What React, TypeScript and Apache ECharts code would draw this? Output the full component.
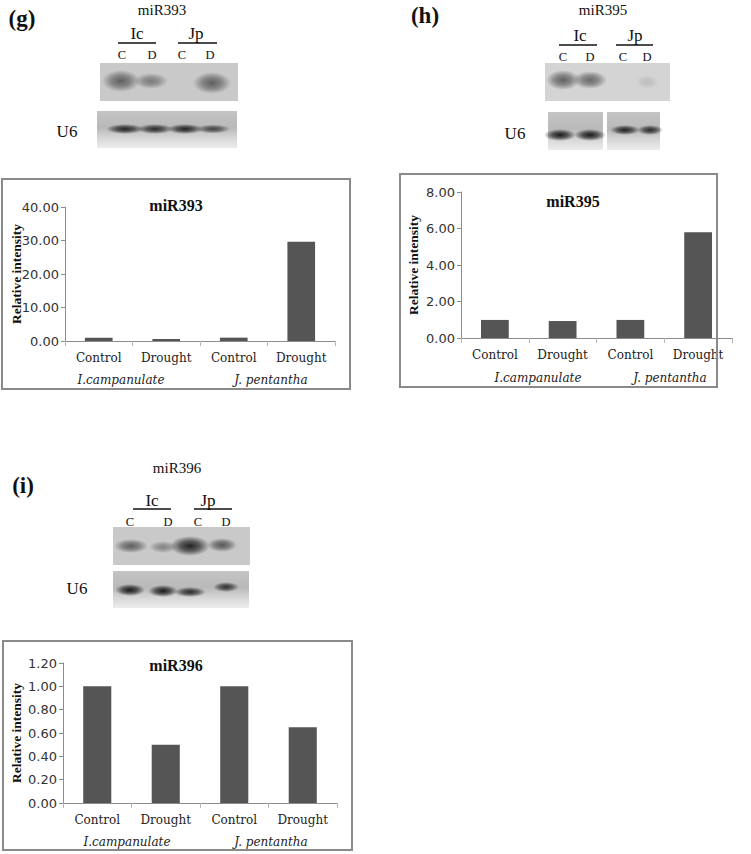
import React, { useEffect, useRef } from 'react';
import * as echarts from 'echarts';

// ---- data ----
const categories = ['Control', 'Drought', 'Control', 'Drought'];
const groupLabels = ['I.campanulate', 'J. pentantha'];
const panelTitles = ['miR393', 'miR395', 'miR396'];
const panelLetters = ['(g)', '(h)', '(i)'];
const miR393Values = [1.0, 0.6, 1.0, 29.6];
const miR395Values = [0.99, 0.93, 0.99, 5.8];
const miR396Values = [1.0, 0.5, 1.0, 0.65];
const yMaxes = [40, 8, 1.2];
const yIntervals = [10, 2, 0.2];
const laneLabels = ['C', 'D', 'C', 'D'];
const speciesLabels = ['Ic', 'Jp'];
const yAxisName = 'Relative intensity';
const blotLoadingLabel = 'U6';

const seriesValues = [miR393Values, miR395Values, miR396Values];

// ---- layout (positions / sizes only) ----
const panels = [
  {
    grid: { left: 65, top: 207, width: 270, height: 134 },
    frame: [2, 179, 348, 210],
    title: [176, 205],
    yName: [16, 274],
    groupY: 380,
    groupX: [121, 271],
    letter: [22, 18],
    blotTitle: [162, 10],
    species: [[137, 33], [196, 33]],
    underline: [[118, 156, 43], [178, 217, 43]],
    lanes: [122, 152, 182, 210],
    laneY: 55,
    blot1: [100, 63, 138, 38],
    bands1: [[121, 81, 19, 11, 0.6], [151, 81, 17, 8, 0.45], [212, 83, 19, 11, 0.6]],
    u6: [67, 131],
    blot2: [[97, 111, 140, 37]],
    bands2: [[125, 129, 19, 5, 0.95], [155, 129, 18, 5, 0.9], [185, 129, 18, 5, 0.95], [213, 129, 17, 4.5, 0.75]],
  },
  {
    grid: { left: 461, top: 192, width: 271, height: 146 },
    frame: [400, 174, 317, 213],
    title: [573, 201],
    yName: [413, 265],
    groupY: 378,
    groupX: [538, 670],
    letter: [425, 15],
    blotTitle: [603, 10],
    species: [[580, 35], [635, 35]],
    underline: [[559, 597, 45], [616, 653, 45]],
    lanes: [563, 590, 623, 647],
    laneY: 57,
    blot1: [545, 63, 125, 38],
    bands1: [[563, 80, 17, 10, 0.62], [590, 80, 17, 9, 0.58], [647, 82, 11, 7, 0.12]],
    u6: [515, 133],
    blot2: [[548, 112, 55, 38], [607, 112, 53, 38]],
    bands2: [[560, 135, 16, 6, 1.0], [590, 135, 16, 6, 1.0], [625, 130, 15, 5, 0.95], [650, 130, 13, 5, 0.9]],
  },
  {
    grid: { left: 63, top: 663, width: 274, height: 140 },
    frame: [3, 641, 349, 209],
    title: [176, 665],
    yName: [16, 733],
    groupY: 842,
    groupX: [127, 271],
    letter: [23, 485],
    blotTitle: [177, 468],
    species: [[152, 500], [208, 500]],
    underline: [[133, 171, 509], [194, 232, 509]],
    lanes: [130, 168, 198, 226],
    laneY: 522,
    blot1: [113, 527, 137, 38],
    bands1: [[131, 546, 17, 7, 0.6], [163, 547, 14, 6, 0.4], [190, 546, 20, 10, 0.95], [222, 545, 15, 7, 0.65]],
    u6: [77, 588],
    blot2: [[113, 571, 136, 37]],
    bands2: [[130, 590, 15, 6, 1.0], [163, 591, 15, 6, 1.0], [190, 592, 16, 5, 0.9], [226, 587, 13, 5, 0.85]],
  },
];

const SERIF = '"Liberation Serif", "Times New Roman", serif';
const SLAB = '"DejaVu Serif", serif';
const SANS = '"DejaVu Sans", Verdana, sans-serif';

function band(cx: number, cy: number, rx: number, ry: number, a: number) {
  return {
    type: 'ellipse',
    shape: { cx, cy, rx, ry },
    style: {
      fill: new echarts.graphic.RadialGradient(0.5, 0.5, 0.5, [
        { offset: 0, color: `rgba(25,25,25,${a})` },
        { offset: 0.5, color: `rgba(25,25,25,${a * 0.65})` },
        { offset: 1, color: 'rgba(25,25,25,0)' },
      ]),
    },
    z: 3,
  };
}

function txt(x: number, y: number, text: string, font: any) {
  return {
    type: 'text',
    x,
    y,
    style: { text, align: 'center', verticalAlign: 'middle', fill: '#111', ...font },
    z: 5,
  };
}

function buildGraphics() {
  const els: any[] = [];
  panels.forEach((p, i) => {
    els.push({
      type: 'rect',
      shape: { x: p.frame[0], y: p.frame[1], width: p.frame[2], height: p.frame[3] },
      style: { fill: 'none', stroke: '#8a8a8a', lineWidth: 2 },
      z: 1,
    });
    els.push(txt(p.title[0], p.title[1], panelTitles[i], { fontFamily: SERIF, fontWeight: 'bold', fontSize: 16 }));
    els.push({
      type: 'text',
      x: p.yName[0],
      y: p.yName[1],
      rotation: Math.PI / 2,
      style: { text: yAxisName, align: 'center', verticalAlign: 'middle', fill: '#111', fontFamily: SERIF, fontWeight: 'bold', fontSize: 13.5 },
      z: 5,
    });
    groupLabels.forEach((g, k) => {
      els.push(txt(p.groupX[k], p.groupY, g, { fontFamily: SLAB, fontStyle: 'italic', fontSize: 12, fill: '#222' }));
    });

    els.push(txt(p.letter[0], p.letter[1], panelLetters[i], { fontFamily: SERIF, fontWeight: 'bold', fontSize: 23 }));
    els.push(txt(p.blotTitle[0], p.blotTitle[1], panelTitles[i], { fontFamily: SERIF, fontSize: 15 }));
    speciesLabels.forEach((s, k) => {
      els.push(txt(p.species[k][0], p.species[k][1], s, { fontFamily: SERIF, fontSize: 17 }));
      const u = p.underline[k];
      els.push({ type: 'line', shape: { x1: u[0], y1: u[2], x2: u[1], y2: u[2] }, style: { stroke: '#111', lineWidth: 1.3 }, z: 5 });
    });
    laneLabels.forEach((l, k) => {
      els.push(txt(p.lanes[k], p.laneY, l, { fontFamily: SERIF, fontSize: 12.5 }));
    });

    const b1 = p.blot1;
    els.push({
      type: 'rect',
      shape: { x: b1[0], y: b1[1], width: b1[2], height: b1[3] },
      style: { fill: i === 1 ? '#d4d4d4' : '#c9c9c9' },
      z: 2,
    });
    p.bands1.forEach((b) => els.push(band(b[0], b[1], b[2], b[3], b[4])));

    els.push(txt(p.u6[0], p.u6[1], blotLoadingLabel, { fontFamily: SERIF, fontSize: 17 }));
    p.blot2.forEach((b2) => {
      els.push({
        type: 'rect',
        shape: { x: b2[0], y: b2[1], width: b2[2], height: b2[3] },
        style: {
          fill: new echarts.graphic.LinearGradient(0, 0, 0, 1, [
            { offset: 0, color: '#c4c4c4' },
            { offset: 0.45, color: '#b9b9b9' },
            { offset: 0.75, color: '#d9d9d9' },
            { offset: 1, color: '#ececec' },
          ]),
        },
        z: 2,
      });
    });
    p.bands2.forEach((b) => els.push(band(b[0], b[1], b[2], b[3], b[4])));
  });
  return els;
}

function buildOption() {
  return {
    animation: false,
    backgroundColor: '#ffffff',
    grid: panels.map((p) => ({ ...p.grid, containLabel: false })),
    xAxis: panels.map((p, i) => ({
      type: 'category',
      gridIndex: i,
      data: categories,
      axisLine: { show: true, lineStyle: { color: '#8c8c8c', width: 1 } },
      axisTick: { show: true, length: 5, lineStyle: { color: '#b5b5b5' } },
      axisLabel: { color: '#222', fontFamily: SLAB, fontSize: 12, margin: 11 },
      splitLine: { show: false },
    })),
    yAxis: panels.map((p, i) => ({
      type: 'value',
      gridIndex: i,
      min: 0,
      max: yMaxes[i],
      interval: yIntervals[i],
      axisLine: { show: true, lineStyle: { color: '#8c8c8c', width: 1 } },
      axisTick: { show: true, length: 4, lineStyle: { color: '#8c8c8c' } },
      axisLabel: {
        color: '#333',
        fontFamily: SANS,
        fontSize: 13,
        margin: 6,
        formatter: (v: number) => v.toFixed(2),
      },
      splitLine: { show: false },
    })),
    series: seriesValues.map((vals, i) => ({
      type: 'bar',
      name: panelTitles[i],
      xAxisIndex: i,
      yAxisIndex: i,
      data: vals,
      barWidth: '41%',
      itemStyle: { color: '#555555' },
    })),
    graphic: buildGraphics(),
  };
}

export default function App() {
  const ref = useRef<HTMLDivElement>(null);
  useEffect(() => {
    if (!ref.current) return;
    const chart = echarts.init(ref.current, undefined, { renderer: 'svg' });
    chart.setOption(buildOption() as any);
    return () => chart.dispose();
  }, []);
  return (
    <div
      ref={ref}
      style={{ position: 'fixed', left: 0, top: 0, width: 751, height: 854, background: '#fff' }}
    />
  );
}
